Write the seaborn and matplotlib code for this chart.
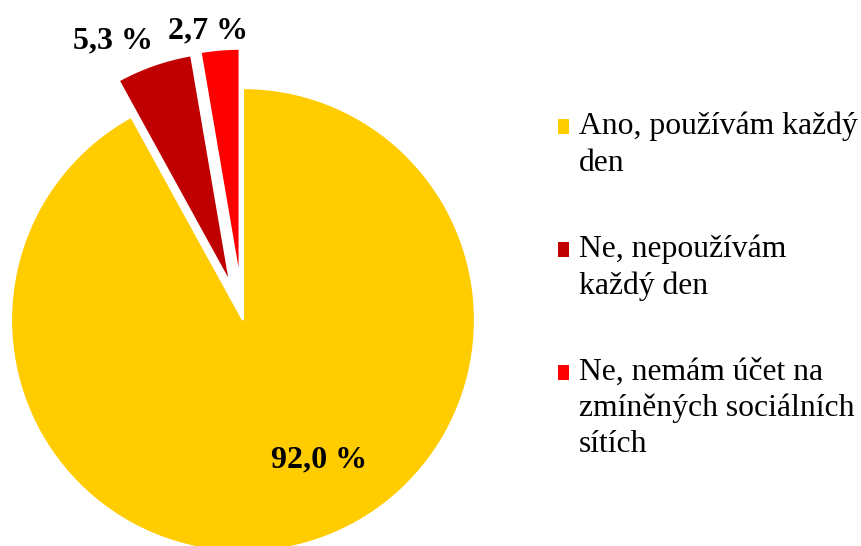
import matplotlib
matplotlib.use("Agg")
import matplotlib.pyplot as plt
import seaborn as sns
from matplotlib.patches import Rectangle
from matplotlib.legend_handler import HandlerPatch

categories = ["Ano, používám každý\nden", "Ne, nepoužívám\nkaždý den", "Ne, nemám účet na\nzmíněných sociálních\nsítích"]
values = [92.0, 5.3, 2.7]
value_labels = ["92,0 %", "5,3 %", "2,7 %"]
colors = ["#FFCC00", "#C00000", "#FF0000"]
explode = [0.0, 0.165, 0.17]

sns.set_theme(style="white")
plt.rcParams["font.family"] = ["Liberation Serif", "DejaVu Serif"]

W, H = 862, 546
fig = plt.figure(figsize=(W / 100, H / 100), dpi=100)
ax = fig.add_axes([0, 0, 1, 1])

cx, cy, r = 243, 320, 232  # pixel geometry of pie

palette = sns.color_palette(colors)
wedges, _ = ax.pie(values, colors=palette, explode=explode, startangle=90,
                   counterclock=False, radius=1.0,
                   wedgeprops=dict(edgecolor="white", linewidth=1.6))

ax.set_aspect("auto")
ax.set_xlim(-cx / r, (W - cx) / r)
ax.set_ylim(-(H - cy) / r, cy / r)
ax.axis("off")

def px(x, y):
    return (x - cx) / r, (cy - y) / r

label_px = [(319, 467), (113, 48), (208, 38)]
for lab, (x, y) in zip(value_labels, label_px):
    dx, dy = px(x, y)
    ax.text(dx, dy, lab, ha="center", va="baseline", fontsize=23,
            fontweight="bold", color="black")

FS = 22.8
LS = 1.32
STEP_PT = 26.0
nlines = {id(w): c.count("\n") + 1 for w, c in zip(wedges, categories)}

def square(legend, orig_handle, xdescent, ydescent, width, height, fontsize):
    n = nlines.get(id(orig_handle), 1)
    off = (n - 1) / 2 * STEP_PT
    return Rectangle((-xdescent, -ydescent + off), width, height)

leg = ax.legend(wedges, categories, loc="upper left",
                bbox_to_anchor=(558 / W, 1 - 112 / H), bbox_transform=fig.transFigure,
                frameon=False, fontsize=FS, handlelength=0.36, handleheight=0.36,
                handletextpad=0.3, labelspacing=1.8, borderpad=0, borderaxespad=0,
                handler_map={w: HandlerPatch(patch_func=square) for w in wedges})
for t in leg.get_texts():
    t.set_linespacing(LS)
    t.set_color("black")
for h in leg.legend_handles:
    h.set_edgecolor("none")

fig.savefig("out.png", dpi=100)
